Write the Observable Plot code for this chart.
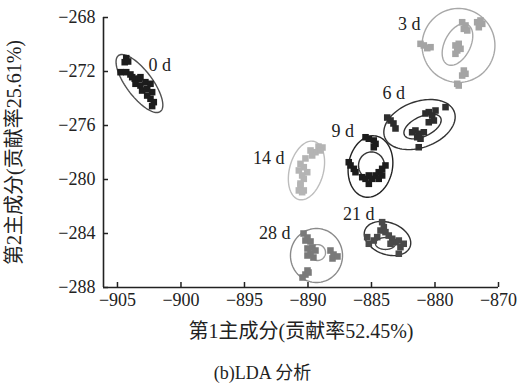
<!DOCTYPE html>
<html><head><meta charset="utf-8">
<script src="https://cdn.jsdelivr.net/npm/d3@7"></script>
<script src="https://cdn.jsdelivr.net/npm/@observablehq/plot@0.6"></script>
<style>
body{margin:0;background:#fff;}
#wrap{width:529px;position:relative;}
#cap{width:529px;text-align:center;font-size:18px;font-family:"Liberation Serif","Noto Sans CJK SC",serif;color:#222;margin-top:18px;padding-right:4px;box-sizing:border-box;line-height:20px;}
</style></head>
<body><div id="wrap"></div><div id="cap">(b)LDA 分析</div>
<script>
// ---- data ----
const groups = ["0 d","3 d","6 d","9 d","14 d","21 d","28 d"];
const x0d = [-904.31,-904.43,-904.16,-904.76,-904.31,-903.98,-903.84,-903.64,-903.32,-903.19,-903.58,-903.19,-902.80,-902.40,-903.06,-902.66,-902.27,-902.66,-902.40,-902.14,-902.27];
const y0d = [-271.01,-271.31,-271.26,-272.05,-272.05,-272.22,-272.42,-272.54,-272.54,-272.42,-272.91,-273.04,-272.79,-272.91,-273.41,-273.28,-273.53,-273.78,-274.02,-274.27,-274.56];
const x3d = [-881.14,-880.88,-880.61,-880.35,-878.39,-878.13,-878.25,-877.99,-878.39,-877.86,-877.60,-877.73,-877.46,-876.68,-876.42,-876.28,-876.55,-877.73,-877.60,-877.86,-878.25,-878.13];
const y3d = [-269.95,-270.07,-270.27,-270.20,-270.07,-269.95,-270.44,-270.32,-270.69,-268.35,-268.59,-268.84,-268.96,-268.35,-268.22,-268.47,-268.72,-271.93,-272.17,-272.30,-272.91,-273.04];
const x6d = [-883.76,-883.50,-883.27,-883.11,-880.75,-880.49,-880.22,-879.96,-880.09,-880.49,-879.17,-881.80,-881.54,-881.28,-880.88,-881.14,-881.40,-881.28];
const y6d = [-275.41,-275.63,-275.85,-276.22,-275.11,-275.01,-275.26,-274.89,-275.63,-275.76,-274.64,-276.50,-276.37,-276.61,-276.50,-276.98,-276.87,-277.61];
const x9d = [-885.47,-885.21,-884.82,-884.68,-884.82,-886.79,-886.65,-886.39,-886.26,-885.73,-885.47,-885.21,-884.95,-885.21,-884.68,-884.43,-884.16,-883.90,-884.16,-884.43];
const y9d = [-276.87,-276.98,-277.11,-277.36,-277.61,-278.72,-278.96,-279.21,-279.46,-279.83,-279.95,-279.70,-279.95,-280.32,-279.70,-279.46,-279.21,-278.96,-279.70,-279.95];
const x14d = [-889.17,-888.86,-889.41,-889.80,-889.02,-889.67,-890.20,-890.59,-890.33,-890.72,-890.06,-890.46,-890.33,-890.59,-890.59,-890.33,-890.72,-890.46];
const y14d = [-277.56,-277.63,-277.98,-277.85,-277.85,-278.22,-278.44,-278.84,-279.09,-279.33,-279.46,-279.70,-279.95,-280.30,-280.44,-280.81,-280.81,-280.94];
const x21d = [-884.16,-884.03,-884.29,-883.90,-885.34,-885.21,-884.82,-884.55,-883.64,-883.37,-883.11,-883.50,-882.85,-882.72,-882.85,-882.46];
const y21d = [-283.16,-283.53,-283.78,-283.90,-284.27,-284.76,-284.52,-284.27,-284.15,-284.39,-284.64,-284.76,-284.52,-285.01,-285.50,-284.76];
const x28d = [-890.35,-890.04,-890.20,-889.80,-890.04,-889.65,-889.41,-889.80,-890.04,-889.57,-888.23,-887.99,-888.07,-887.68,-890.04,-890.20,-890.43,-889.96];
const y28d = [-284.00,-284.30,-284.52,-284.59,-285.11,-285.04,-285.26,-285.48,-285.63,-285.78,-285.26,-285.56,-285.85,-285.70,-286.74,-287.04,-287.26,-286.89];
const pointColors = ["#1c1c1c","#a4a4a4","#2e2e2e","#1c1c1c","#b4b4b4","#4a4a4a","#7a7a7a"];

// ellipses: centre and two conjugate semi-axis vectors (data units)
const ellGroup = ["0 d","3 d","3 d","6 d","6 d","9 d","9 d","14 d","21 d","21 d","28 d","28 d"];
const ellCx = [-903.27,-878.15,-878.23,-881.22,-880.98,-885.08,-885.00,-890.12,-883.74,-883.90,-889.33,-889.25];
const ellCy = [-272.89,-270.07,-270.00,-275.93,-276.07,-279.04,-278.96,-279.33,-284.37,-284.74,-285.63,-285.41];
const ellUx = [-1.65,2.87,0.79,2.74,1.43,0.43,1.02,0.61,1.78,0.79,2.05,0.63];
const ellUy = [2.07,0,1.48,0.94,0.63,2.26,0,2.15,-0.61,0,0,0];
const ellVx = [0.82,0,0.91,0.62,0.33,1.71,0,1.29,-0.43,0,0,0];
const ellVy = [0.58,2.74,-0.43,-1.60,-0.67,-0.28,1.00,-0.33,-1.11,0.44,2.00,0.59];
const ellColors = ["#505050","#a8a8a8","#a8a8a8","#333333","#333333","#222222","#333333","#bdbdbd","#333333","#444444","#8a8a8a","#999999"];

// group labels
const labelX = [-902.56,-881.14,-884.13,-888.15,-891.85,-884.76,-891.38];
const labelY = [-271.56,-268.52,-273.63,-276.44,-278.44,-282.59,-284.00];
const labelAnchor = ["start","end","start","start","end","end","end"];

// axes
const xTicks = [-905,-900,-895,-890,-885,-880,-875];
const xTickLabels = ["−905","−900","−895","−890","−885","−880","−870"];
const yTicks = [-288,-284,-280,-276,-272,-268];
const yTickLabels = ["−288","−284","−280","−276","−272","−268"];
const xTitle = "第1主成分(贡献率52.45%)";
const yTitle = "第2主成分(贡献率25.61%)";
const xDomain = [-906.1,-875];
const yDomain = [-288,-268];

// ---- build tables ----
const xs = [x0d,x3d,x6d,x9d,x14d,x21d,x28d];
const ys = [y0d,y3d,y6d,y9d,y14d,y21d,y28d];
const pts = [];
groups.forEach((g,i)=>xs[i].forEach((x,j)=>pts.push({g, i, x, y: ys[i][j]})));
const ellPts = [];
const N = 90;
ellCx.forEach((cx,k)=>{
  for(let s=0;s<=N;s++){
    const t = 2*Math.PI*s/N;
    ellPts.push({k, x: cx + ellUx[k]*Math.cos(t) + ellVx[k]*Math.sin(t), y: ellCy[k] + ellUy[k]*Math.cos(t) + ellVy[k]*Math.sin(t)});
  }
});
const labels = groups.map((g,i)=>({g, x: labelX[i], y: labelY[i], a: labelAnchor[i]}));

const serif = "Liberation Serif, Noto Sans CJK SC, serif";
const frameW = 529-103-31, frameH = 345-17-58;

const plot = Plot.plot({
  width: 529, height: 345,
  marginTop: 17, marginBottom: 58, marginLeft: 103, marginRight: 31,
  style: {fontFamily: serif, fontSize: "18px", color: "#222", background: "#fff", overflow: "visible"},
  x: {domain: xDomain},
  y: {domain: yDomain},
  marks: [
    Plot.line(ellPts, {x:"x", y:"y", z:"k", stroke: d=>ellColors[d.k], strokeWidth: 1.4}),
    Plot.dot(pts, {x:"x", y:"y", symbol:"square", r: 3.7, fill: d=>pointColors[d.i], stroke: "none"}),
    Plot.text(labels.filter(d=>d.a==="start"), {x:"x", y:"y", text:"g", textAnchor:"start", fontSize: 18, fontFamily: serif, fill:"#222"}),
    Plot.text(labels.filter(d=>d.a==="end"), {x:"x", y:"y", text:"g", textAnchor:"end", fontSize: 18, fontFamily: serif, fill:"#222"}),
    Plot.tickX(xTicks, {x: d=>d, insetTop: frameH-5, stroke:"#222", strokeWidth: 1.5}),
    Plot.tickY(yTicks, {y: d=>d, insetRight: frameW-5, stroke:"#222", strokeWidth: 1.5}),
    Plot.axisX({ticks: xTicks, tickSize: 0, tickPadding: 6, tickFormat: (d)=>xTickLabels[xTicks.indexOf(d)], fontSize: 18, fontFamily: serif, label: null}),
    Plot.axisY({ticks: yTicks, tickSize: 0, tickPadding: 8, tickFormat: (d)=>yTickLabels[yTicks.indexOf(d)], fontSize: 18, fontFamily: serif, label: null}),
    Plot.ruleY([yDomain[0]], {stroke:"#222", strokeWidth: 1.6}),
    Plot.ruleX([xDomain[0]], {stroke:"#222", strokeWidth: 1.6}),
    Plot.text([xTitle], {frameAnchor:"bottom", dy: 50, text: d=>d, textAnchor:"middle", fontSize: 20, fontFamily: serif, fill:"#222"}),
    Plot.text([yTitle], {frameAnchor:"left", dx: -89, rotate: -90, text: d=>d, textAnchor:"middle", lineAnchor:"middle", fontSize: 20, fontFamily: serif, fill:"#222"})
  ]
});
document.getElementById("wrap").appendChild(plot);
</script>
</body></html>
